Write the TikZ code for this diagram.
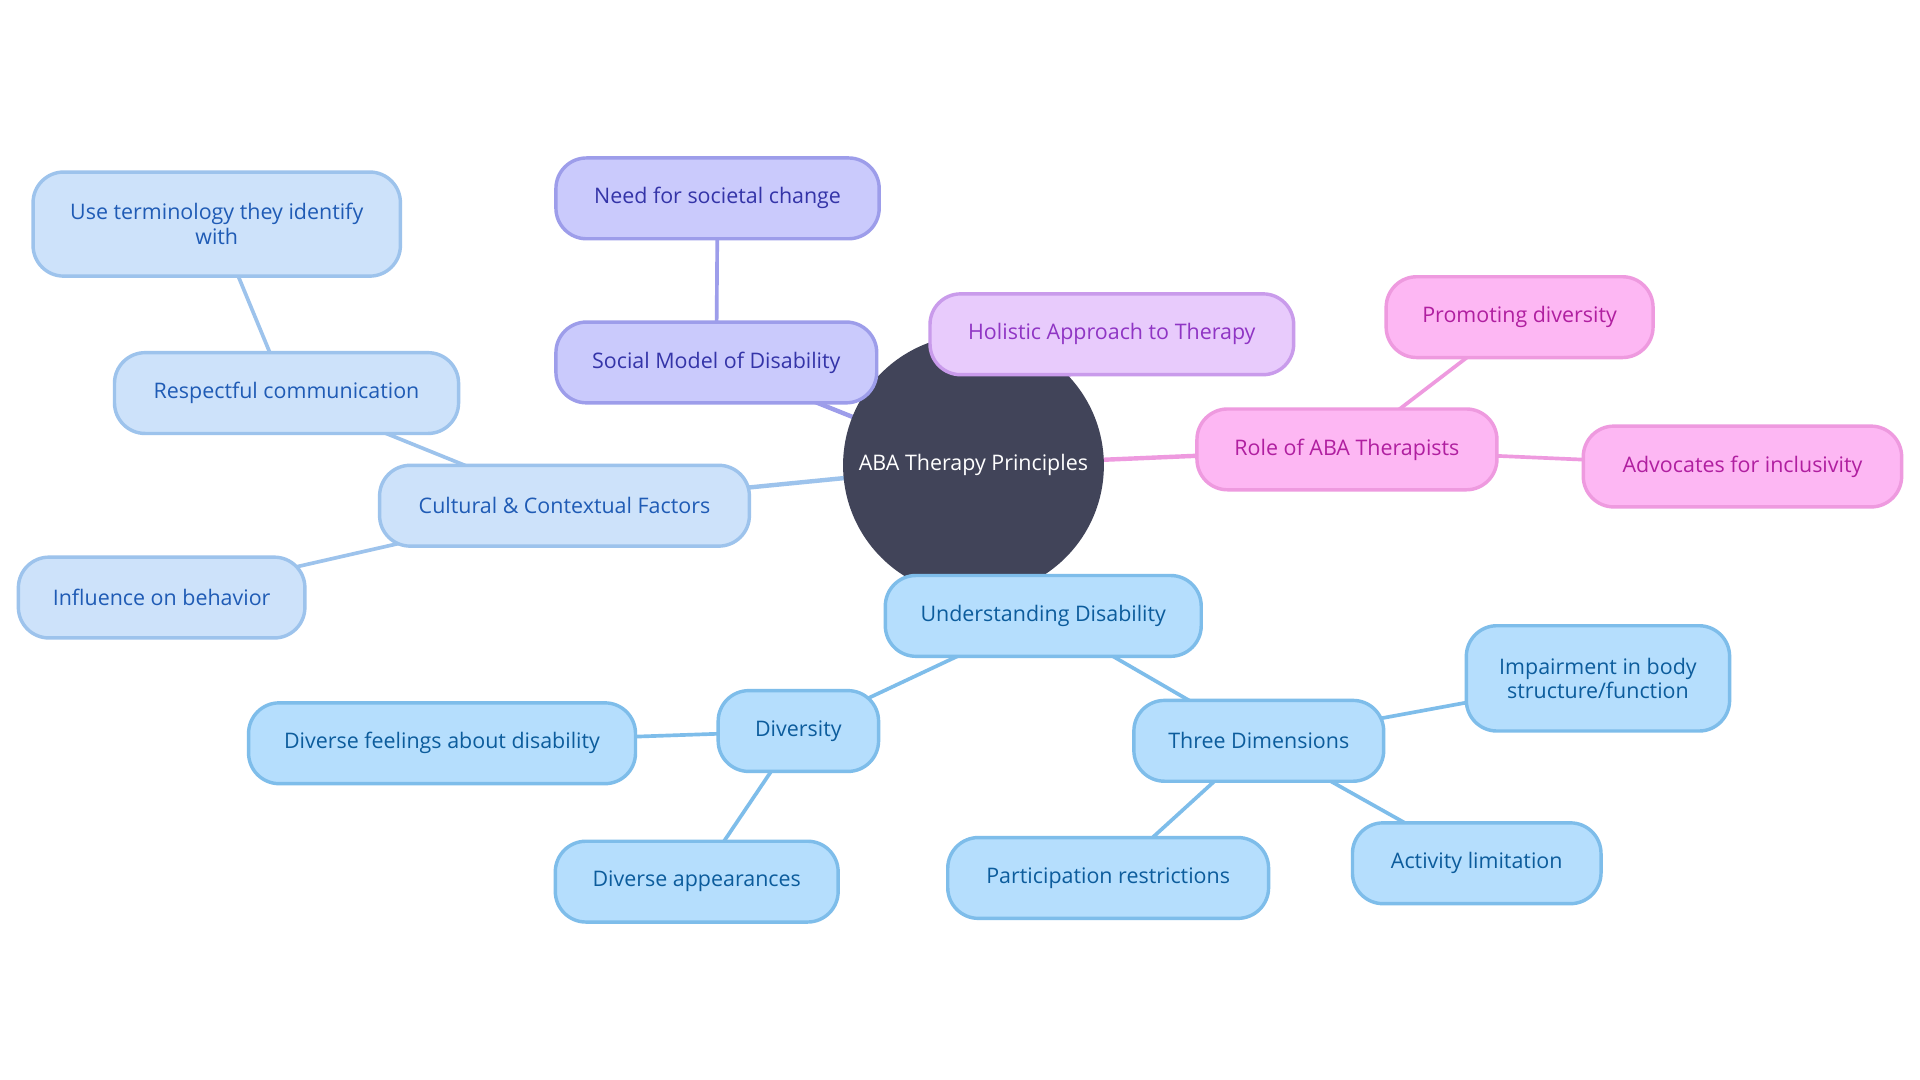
\documentclass[tikz,border=0pt]{standalone}
\usepackage{fontspec}
\setmainfont{Open Sans}
\usetikzlibrary{backgrounds}
\definecolor{darkc}{HTML}{414459}
\definecolor{indF}{HTML}{CACAFC}
\definecolor{indB}{HTML}{9D9DEA}
\definecolor{indT}{HTML}{3434A8}
\definecolor{lavF}{HTML}{E8CBFC}
\definecolor{lavB}{HTML}{C99BEB}
\definecolor{lavT}{HTML}{8F35C4}
\definecolor{pnkF}{HTML}{FDB7F3}
\definecolor{pnkB}{HTML}{EE9ADF}
\definecolor{pnkT}{HTML}{B01FA0}
\definecolor{cbF}{HTML}{CDE2FA}
\definecolor{cbB}{HTML}{9DC3EC}
\definecolor{cbT}{HTML}{1F5BB5}
\definecolor{ubF}{HTML}{B5DEFD}
\definecolor{ubB}{HTML}{7EBDEA}
\definecolor{ubT}{HTML}{0C5C9C}
\begin{document}
\begin{tikzpicture}[x=1pt,y=-1pt,
  box/.style={draw, rounded corners=25pt, line width=2.8pt, inner sep=0pt, align=center,
    font=\fontsize{17.5}{20}\selectfont, minimum height=66pt},
  ind/.style={box, fill=indF, draw=indB, text=indT},
  lav/.style={box, fill=lavF, draw=lavB, text=lavT},
  pnk/.style={box, fill=pnkF, draw=pnkB, text=pnkT},
  cb/.style={box, fill=cbF, draw=cbB, text=cbT},
  ub/.style={box, fill=ubF, draw=ubB, text=ubT},
  lone/.style={line width=3.6pt},
  ltwo/.style={line width=3pt}]
\useasboundingbox (0,0) rectangle (1568,882);

\node[circle, fill=darkc, text=white, minimum size=213pt, inner sep=0pt,
  font=\fontsize{17.5}{20}\selectfont] (root) at (795,380) {ABA Therapy Principles};

\node[ind, minimum width=264pt] (need) at (586,162) {Need for societal change};
\node[ind, minimum width=262pt] (social) at (585,296) {Social Model of Disability};
\node[lav, minimum width=297pt] (holistic) at (908,273) {Holistic Approach to Therapy};

\node[cb, minimum width=300pt, minimum height=85pt] (useterm) at (177,183) {Use terminology they identify\\with};
\node[cb, minimum width=281pt] (respect) at (234,321) {Respectful communication};
\node[cb, minimum width=302pt] (cultural) at (461,413) {Cultural \& Contextual Factors};
\node[cb, minimum width=234pt] (influence) at (132,488) {Influence on behavior};

\node[pnk, minimum width=218pt] (promote) at (1241,259) {Promoting diversity};
\node[pnk, minimum width=245pt] (role) at (1100,367) {Role of ABA Therapists};
\node[pnk, minimum width=260pt] (advoc) at (1423,381) {Advocates for inclusivity};

\node[ub, minimum width=258pt] (under) at (852,503) {Understanding Disability};
\node[ub, minimum width=131pt] (divers) at (652,597) {Diversity};
\node[ub, minimum width=316pt] (feel) at (361,607) {Diverse feelings about disability};
\node[ub, minimum width=231pt] (appear) at (569,720) {Diverse appearances};
\node[ub, minimum width=204pt] (three) at (1028,605) {Three Dimensions};
\node[ub, minimum width=215pt, minimum height=86pt] (impair) at (1305,554) {Impairment in body\\structure/function};
\node[ub, minimum width=262pt] (partic) at (905,717) {Participation restrictions};
\node[ub, minimum width=203pt] (activ) at (1206,705) {Activity limitation};

\begin{pgfonlayer}{background}
\fill[white] (0,0) rectangle (1568,882);
\draw[lone, indB] (root.center) -- (social.center);
\draw[ltwo, indB] (social.center) -- (need.center);
\draw[lone, lavB] (root.center) -- (holistic.center);
\draw[lone, cbB] (root.center) -- (cultural.center);
\draw[ltwo, cbB] (cultural.center) -- (respect.center);
\draw[ltwo, cbB] (respect.center) -- (useterm.center);
\draw[ltwo, cbB] (cultural.center) -- (influence.center);
\draw[lone, pnkB] (root.center) -- (role.center);
\draw[ltwo, pnkB] (role.center) -- (promote.center);
\draw[ltwo, pnkB] (role.center) -- (advoc.center);
\draw[lone, ubB] (root.center) -- (under.center);
\draw[ltwo, ubB] (under.center) -- (divers.center);
\draw[ltwo, ubB] (under.center) -- (three.center);
\draw[ltwo, ubB] (divers.center) -- (feel.center);
\draw[ltwo, ubB] (divers.center) -- (appear.center);
\draw[ltwo, ubB] (three.center) -- (impair.center);
\draw[ltwo, ubB] (three.center) -- (partic.center);
\draw[ltwo, ubB] (three.center) -- (activ.center);
\end{pgfonlayer}
\end{tikzpicture}
\end{document}
